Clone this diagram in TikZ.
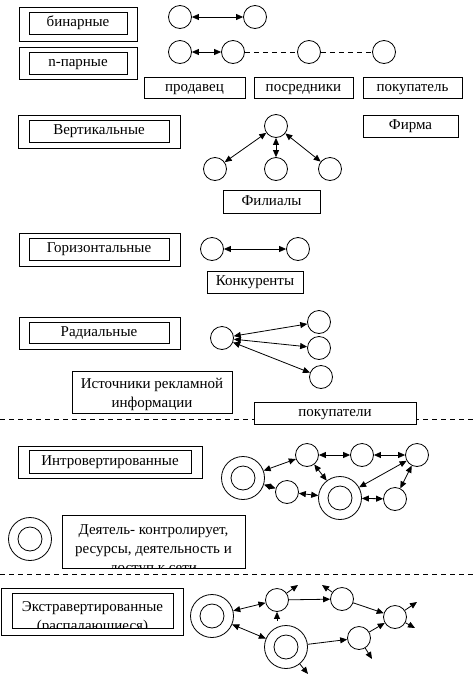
\documentclass[tikz,border=0pt]{standalone}
\usepackage{fontspec}
\setmainfont{Liberation Serif}
\usetikzlibrary{arrows.meta}
\tikzset{
  box/.style={draw, line width=0.8pt, fill=white, inner sep=0pt, font=\fontsize{15}{19}\selectfont},
  tag/.style={box, text height=10pt, text depth=3pt},
  frame/.style={draw, line width=0.8pt, inner sep=0pt},
  vert/.style={draw, line width=0.8pt, circle, minimum size=23pt, inner sep=0pt},
  actor/.style={draw, line width=0.8pt, circle, minimum size=43pt, inner sep=0pt,
    path picture={\draw[line width=0.8pt] (path picture bounding box.center) circle (12pt);}},
  link/.style={line width=0.8pt, {Triangle[length=7pt,width=6pt]}-{Triangle[length=7pt,width=6pt]}},
  flow/.style={line width=0.8pt, -{Triangle[length=7pt,width=6pt]}},
  divider/.style={line width=0.8pt, dash pattern=on 5pt off 4pt},
}
\begin{document}
\begin{tikzpicture}[x=1pt,y=-1pt]
	\useasboundingbox (0,0) rectangle (474,683);
	% separators
	\draw[divider] (0,419) -- (474,419);
	\draw[divider] (0,574) -- (474,574);
	
	% binary
	\node[frame, minimum width=118, minimum height=34] (binout) at (78,24) {};
	\node[tag, minimum width=98, minimum height=22] (bin) at (78,23) {бинарные};
	\node[vert] (b1) at (180,17) {};
	\node[vert] (b2) at (255,17) {};
	\draw[link] (b1) -- (b2);
	
	% n-ary
	\node[frame, minimum width=118, minimum height=32] (naryout) at (78,63) {};
	\node[tag, minimum width=98, minimum height=22] (nary) at (78,63) {n-парные};
	\node[vert] (n1) at (180,52) {};
	\node[vert] (n2) at (233,52) {};
	\node[vert] (n3) at (309,52) {};
	\node[vert] (n4) at (384,52) {};
	\draw[link] (n1) -- (n2);
	\draw[divider] (n2) -- (n3);
	\draw[divider] (n3) -- (n4);
	\node[tag, minimum width=101, minimum height=21] (seller) at (194.5,87.5) {продавец};
	\node[tag, minimum width=99, minimum height=21] (agents) at (303.5,87.5) {посредники};
	\node[tag, minimum width=99, minimum height=21] (buyer) at (412.5,87.5) {покупатель};
	
	% vertical
	\node[frame, minimum width=162, minimum height=33] (vertout) at (99,131.5) {};
	\node[tag, minimum width=140, minimum height=22] (vertic) at (99,131) {Вертикальные};
	\node[tag, minimum width=95, minimum height=22] (firm) at (410.5,126) {Фирма};
	\node[vert] (top) at (276,126) {};
	\node[vert] (f1) at (215,169) {};
	\node[vert] (f2) at (276,169) {};
	\node[vert] (f3) at (330,169) {};
	\draw[link] (top) -- (f1);
	\draw[link] (top) -- (f2);
	\draw[link] (top) -- (f3);
	\node[tag, minimum width=97, minimum height=23] (branch) at (271.5,201.5) {Филиалы};
	
	% horizontal
	\node[frame, minimum width=161, minimum height=33] (horout) at (99.5,249.5) {};
	\node[tag, minimum width=140, minimum height=22] (horiz) at (99,249) {Горизонтальные};
	\node[vert] (h1) at (212,249) {};
	\node[vert] (h2) at (298,249) {};
	\draw[link] (h1) -- (h2);
	\node[tag, minimum width=96, minimum height=22] (rivals) at (255,282) {Конкуренты};
	
	% radial
	\node[frame, minimum width=161, minimum height=32] (radout) at (99.5,333) {};
	\node[tag, minimum width=140, minimum height=21] (radial) at (99,332.5) {Радиальные};
	\node[vert] (r0) at (222,338) {};
	\node[vert] (r1) at (319,322) {};
	\node[vert] (r2) at (319,348) {};
	\node[vert] (r3) at (321,377) {};
	\draw[link] (r0) -- (r1);
	\draw[link] (r0) -- (r2);
	\draw[link] (r0) -- (r3);
	\node[frame, fill=white, minimum width=160, minimum height=42] (source) at (152,392) {};
	\node[box, draw=none, fill=none, align=center, anchor=base] (sourcetext) at (152,407) {Источники рекламной\\информации};
	\node[tag, minimum width=162, minimum height=22] (buyers) at (335,413) {покупатели};
	
	% introverted
	\node[frame, minimum width=184, minimum height=32] (introout) at (110,462) {};
	\node[tag, minimum width=162, minimum height=23] (intro) at (110,461.5) {Интровертированные};
	\node[actor] (A) at (243,478) {};
	\node[vert] (B) at (307,455) {};
	\node[vert] (C) at (362,455) {};
	\node[vert] (D) at (417,455) {};
	\node[vert] (E) at (287,492) {};
	\node[actor] (F) at (340,498) {};
	\node[vert] (G) at (395,499) {};
	\draw[link] (A) -- (B);
	\draw[link] (B) -- (C);
	\draw[link] (C) -- (D);
	\draw[link] (B) -- (F);
	\draw[link] (A) -- (E);
	\draw[link] (E) -- (F);
	\draw[link] (F) -- (D);
	\draw[link] (F) -- (G);
	\draw[link] (G) -- (D);
	
	% legend
	\node[actor] (key) at (30,539) {};
	\node[frame, minimum width=183, minimum height=53] (keybox) at (153.5,541.5) {};
	\begin{scope}
		\clip (keybox.south west) rectangle (keybox.north east);
		\node[box, draw=none, fill=none, align=center, anchor=base] (keytext) at (153.5,572) {Деятель- контролирует,\\ресурсы, деятельность и\\доступ к сети};
	\end{scope}
	
	% extraverted
	\node[frame, minimum width=182, minimum height=47] (extroout) at (92,611.5) {};
	\node[frame, minimum width=161, minimum height=35] (extrobox) at (92.5,610.5) {};
	\begin{scope}
		\clip (extrobox.south west) rectangle (extrobox.north east);
		\node[box, draw=none, fill=none, align=center, anchor=base] (extro) at (92.5,630) {Экстравертированные\\(распадающиеся)};
	\end{scope}
	\node[actor] (H) at (212,616) {};
	\node[vert] (I) at (277,600) {};
	\node[vert] (J) at (342,599) {};
	\node[vert] (K) at (395,617) {};
	\node[actor] (L) at (286,647) {};
	\node[vert] (M) at (359,638) {};
	\draw[link] (H) -- (I);
	\draw[link] (H) -- (L);
	\draw[flow] (I) -- (J);
	\draw[flow] (J) -- (K);
	\draw[flow] (L) -- (M);
	\draw[flow] (M) -- (K);
	% loose ends
	\coordinate (iout) at (298,585);
	\coordinate (iin) at (277,621);
	\coordinate (jout) at (322,585);
	\coordinate (kout1) at (417,602);
	\coordinate (kout2) at (415,628);
	\coordinate (mout) at (372,659);
	\coordinate (lout) at (308,674);
	\draw[flow] (I) -- (iout);
	\draw[flow] (iin) -- (I);
	\draw[flow] (J) -- (jout);
	\draw[flow] (K) -- (kout1);
	\draw[flow] (K) -- (kout2);
	\draw[flow] (M) -- (mout);
	\draw[flow] (L) -- (lout);
\end{tikzpicture}
\end{document}
